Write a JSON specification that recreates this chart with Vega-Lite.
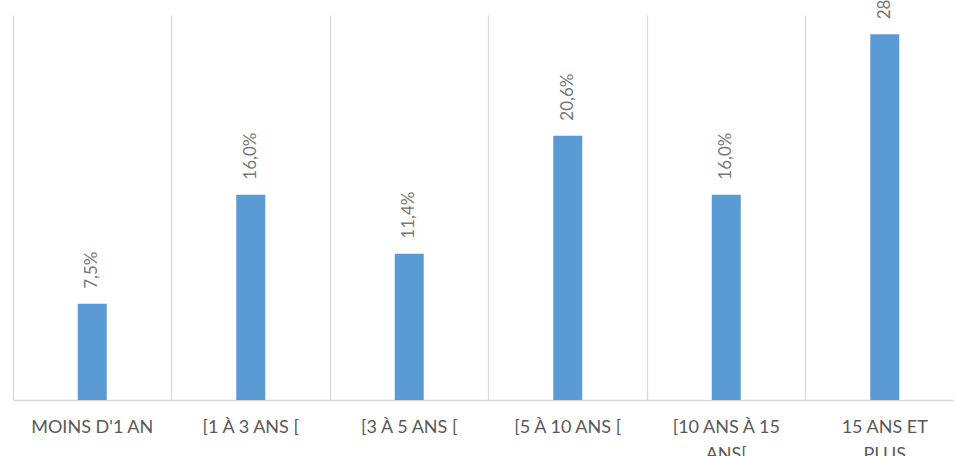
{
  "$schema": "https://vega.github.io/schema/vega-lite/v6.json",
  "width": 941,
  "height": 385,
  "autosize": {"type": "none"},
  "padding": {"left": 13, "top": 15, "right": 0, "bottom": 56},
  "config": {
    "view": {"stroke": null},
    "font": "Lato",
    "locale": {"number": {"decimal": ",", "thousands": " ", "grouping": [3], "currency": ["", " €"]}}
  },
  "data": {
    "values": [
      {"categorie": "MOINS D'1 AN", "part": 0.075},
      {"categorie": "[1 À 3 ANS [", "part": 0.160},
      {"categorie": "[3 À 5 ANS [", "part": 0.114},
      {"categorie": "[5 À 10 ANS [", "part": 0.206},
      {"categorie": "[10 ANS À 15 ANS[", "part": 0.160},
      {"categorie": "15 ANS ET PLUS", "part": 0.285}
    ]
  },
  "encoding": {
    "x": {
      "field": "categorie",
      "type": "nominal",
      "sort": null,
      "scale": {"range": [0, 951], "paddingInner": 0, "paddingOuter": 0},
      "axis": {
        "title": null,
        "labelAngle": 0,
        "ticks": false,
        "grid": true,
        "bandPosition": 0,
        "gridColor": "#d9d9d9",
        "gridWidth": 1.3,
        "domainColor": "#d9d9d9",
        "domainWidth": 1.3,
        "labelColor": "#595959",
        "labelFont": "Lato",
        "labelFontSize": 18,
        "labelPadding": 18,
        "labelLineHeight": 27,
        "labelBaseline": "top",
        "labelLimit": 300,
        "labelExpr": "datum.label == '[10 ANS À 15 ANS[' ? ['[10 ANS À 15', 'ANS['] : datum.label == '15 ANS ET PLUS' ? ['15 ANS ET', 'PLUS'] : datum.label"
      }
    },
    "y": {
      "field": "part",
      "type": "quantitative",
      "scale": {"domain": [0, 0.30], "nice": false, "zero": true},
      "axis": null
    }
  },
  "layer": [
    {"mark": {"type": "bar", "size": 29, "color": "#5b9bd5"}},
    {
      "mark": {"type": "text", "angle": -90, "align": "left", "baseline": "middle", "dx": 15, "fontSize": 17, "color": "#767676", "font": "Lato"},
      "encoding": {"text": {"field": "part", "type": "quantitative", "format": ".1%"}}
    }
  ]
}
